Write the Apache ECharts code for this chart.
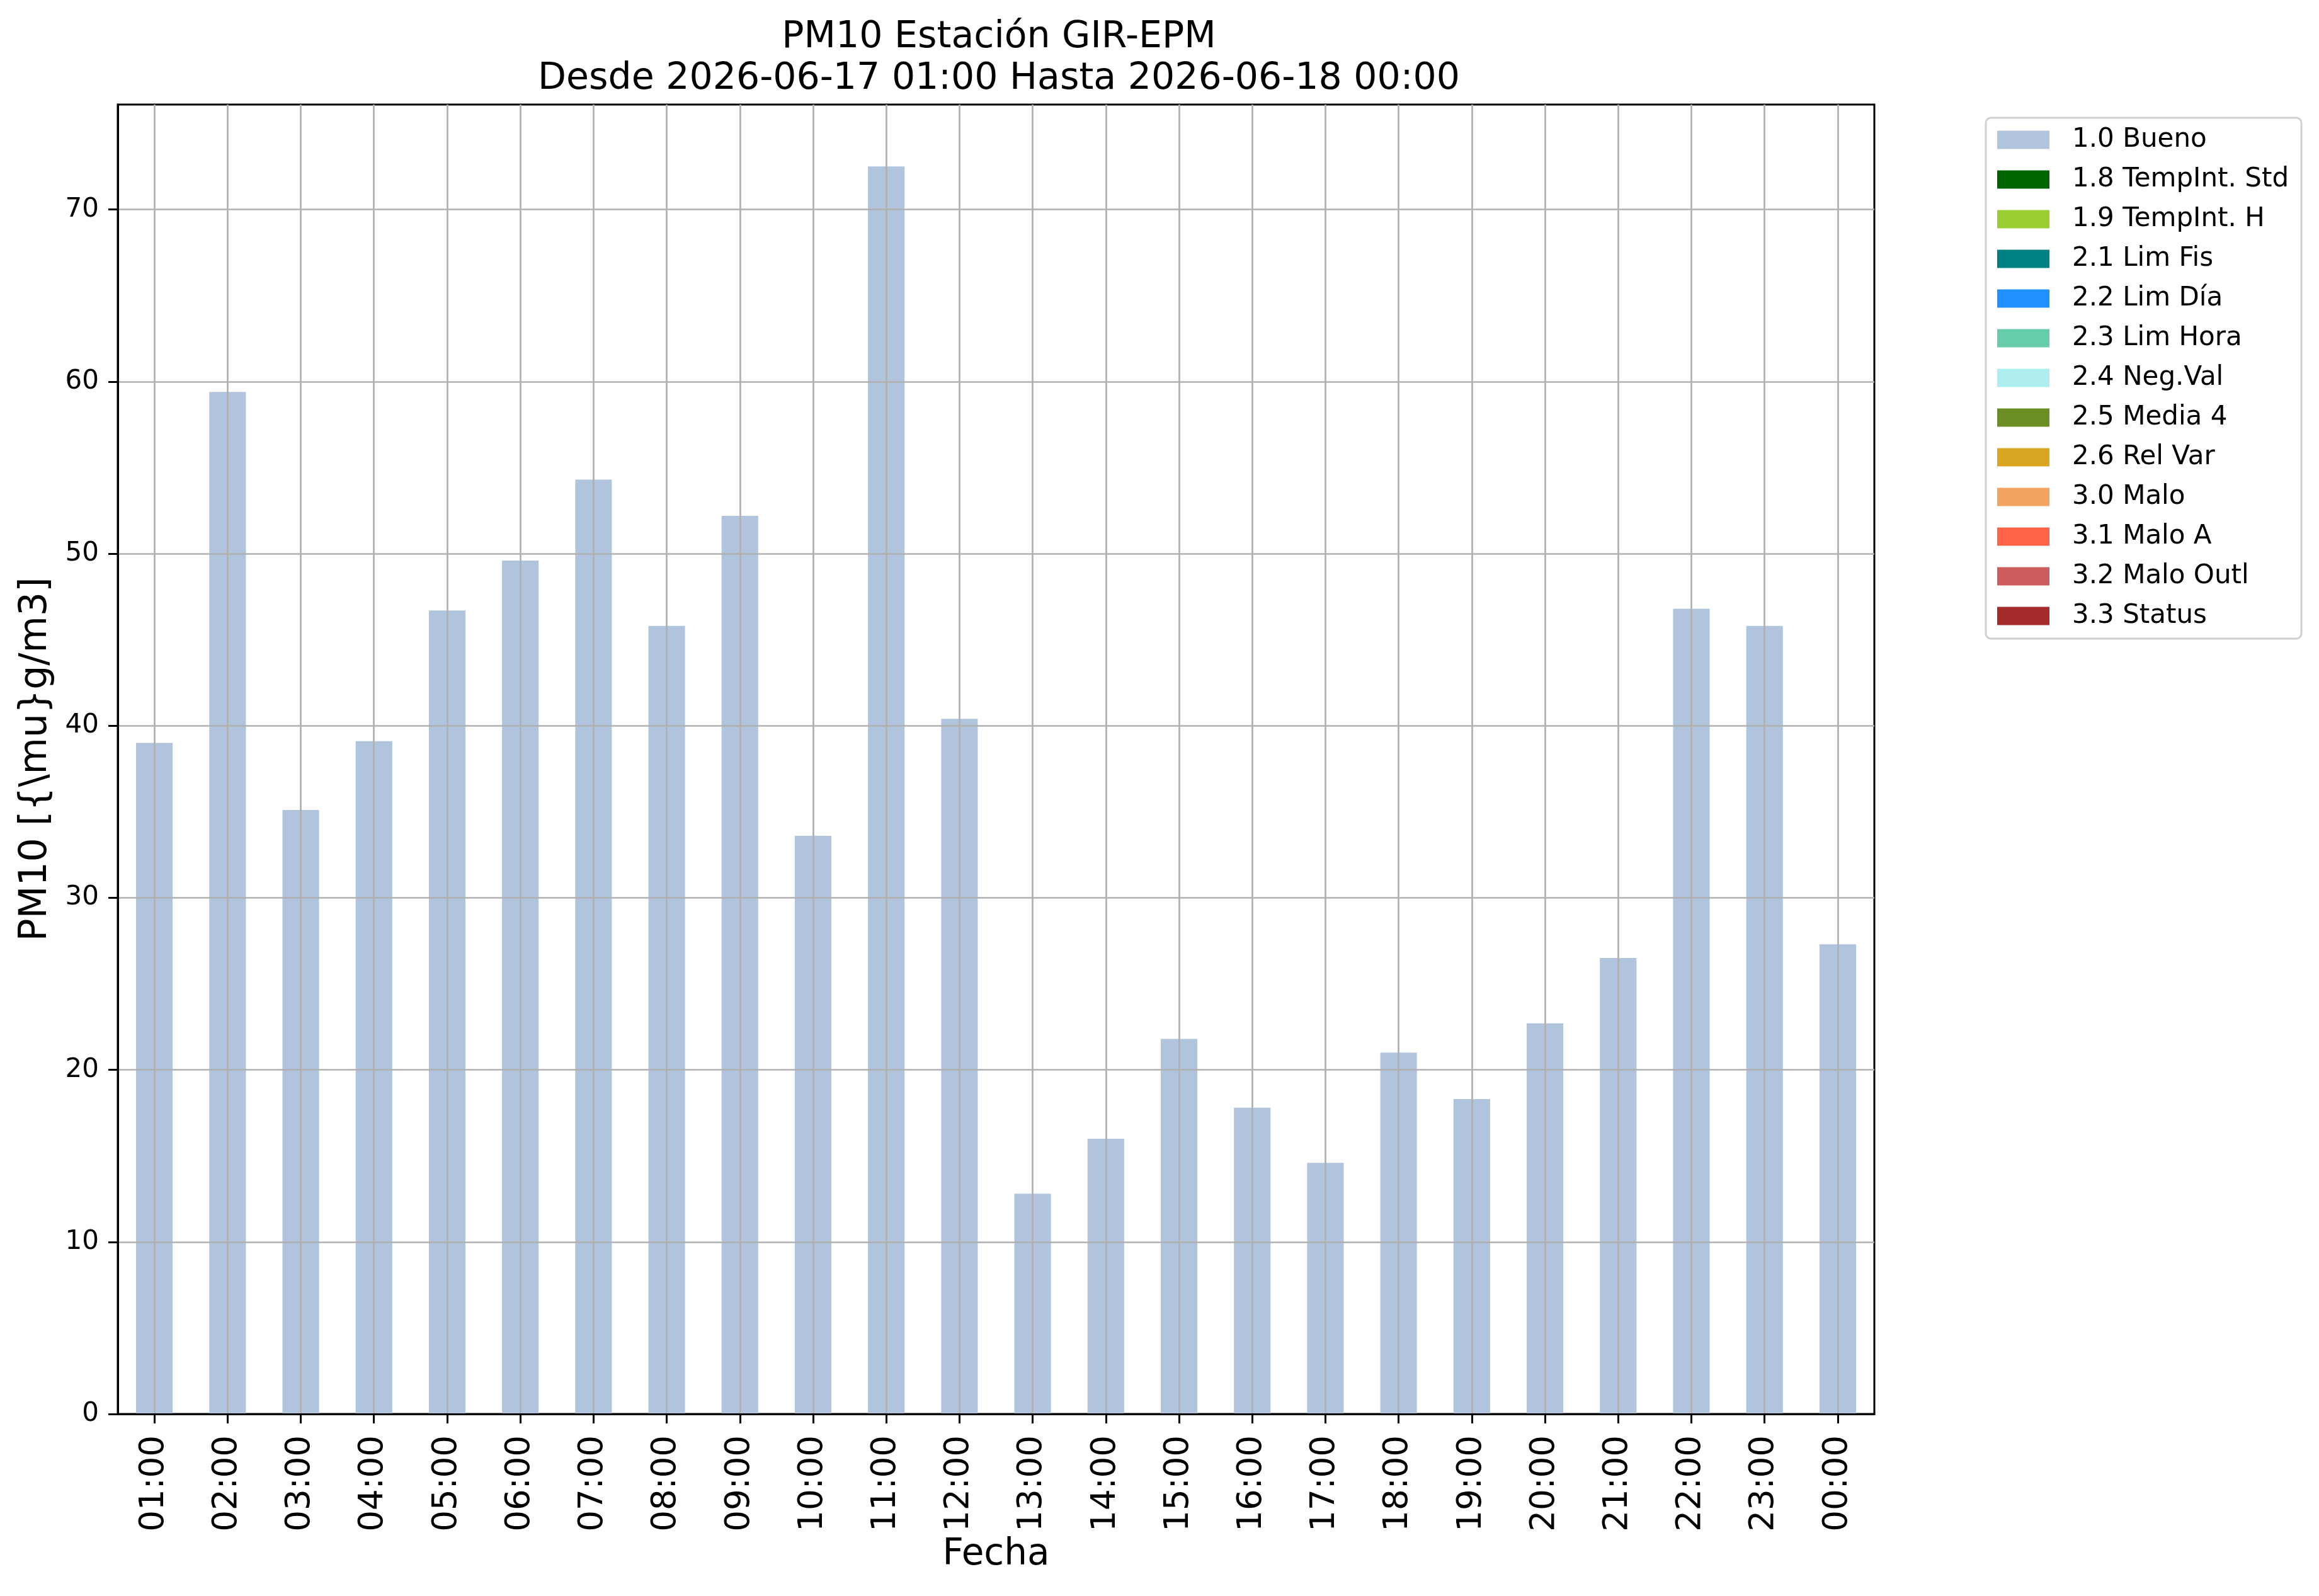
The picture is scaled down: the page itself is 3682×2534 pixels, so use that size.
<!DOCTYPE html>
<html>
<head>
<meta charset="utf-8">
<script src="https://cdn.jsdelivr.net/npm/echarts@6/dist/echarts.min.js"></script>
<style>html,body{margin:0;padding:0;background:#fff;}#c{width:3682px;height:2534px;}</style>
</head>
<body>
<div id="c"></div>
<script>
const categories = ["01:00","02:00","03:00","04:00","05:00","06:00","07:00","08:00","09:00","10:00","11:00","12:00","13:00","14:00","15:00","16:00","17:00","18:00","19:00","20:00","21:00","22:00","23:00","00:00"];
const buenoValues = [39.0,59.4,35.1,39.1,46.7,49.6,54.3,45.8,52.2,33.6,72.5,40.4,12.8,16.0,21.8,17.8,14.6,21.0,18.3,22.7,26.5,46.8,45.8,27.3];
const seriesNames = ["1.0 Bueno","1.8 TempInt. Std","1.9 TempInt. H","2.1 Lim Fis","2.2 Lim Día","2.3 Lim Hora","2.4 Neg.Val","2.5 Media 4","2.6 Rel Var","3.0 Malo","3.1 Malo A","3.2 Malo Outl","3.3 Status"];
const seriesColors = ["#b0c4de","#006400","#9acd32","#008080","#1e90ff","#66cdaa","#afeeee","#6b8e23","#daa520","#f4a460","#ff6347","#cd5c5c","#a52a2a"];
const yTicks = [0,10,20,30,40,50,60,70];
const yMax = 76.1;

const FONT = "DejaVu Sans";
const chart = echarts.init(document.getElementById('c'), null, {renderer:'canvas', devicePixelRatio:1});

const series = seriesNames.map((name, i) => ({
  name: name,
  type: 'bar',
  stack: 'total',
  barWidth: '50%',
  z: 1,
  itemStyle: {color: seriesColors[i]},
  data: i === 0 ? buenoValues : []
}));

chart.setOption({
  animation: false,
  backgroundColor: '#ffffff',
  textStyle: {fontFamily: FONT},
  title: {
    text: 'PM10 Estación GIR-EPM\nDesde 2026-06-17 01:00 Hasta 2026-06-18 00:00',
    left: 1581, top: 22, textAlign: 'center',
    textStyle: {fontFamily: FONT, fontSize: 58.5, fontWeight: 'normal', color: '#000', lineHeight: 66}
  },
  grid: {left: 187, top: 166, width: 2789, height: 2079, show: true, borderColor: '#000', borderWidth: 3, backgroundColor: 'transparent', containLabel: false},
  legend: {
    orient: 'vertical', left: 3153, top: 187,
    padding: [14, 20, 15, 18],
    itemWidth: 83, itemHeight: 29, itemGap: 21,
    icon: 'rect',
    backgroundColor: '#fff', borderColor: '#d0d0d0', borderWidth: 3, borderRadius: 8,
    textStyle: {fontFamily: FONT, fontSize: 42, color: '#000', lineHeight: 42, padding: [0,0,0,31], width: 340},
    selectedMode: false,
    data: seriesNames
  },
  xAxis: {
    type: 'category', data: categories, boundaryGap: true, z: 5,
    name: 'Fecha', nameLocation: 'middle', nameGap: 195,
    nameTextStyle: {fontFamily: FONT, fontSize: 58, color: '#000'},
    axisLine: {show: true, lineStyle: {color: '#000', width: 3}},
    axisTick: {show: true, alignWithLabel: true, length: 15, lineStyle: {color: '#000', width: 3}},
    axisLabel: {rotate: 90, interval: 0, fontFamily: FONT, fontSize: 53, color: '#000', margin: 34},
    splitLine: {show: true, alignWithLabel: true, interval: 0, lineStyle: {color: '#b0b0b0', width: 2.7}}
  },
  yAxis: {
    type: 'value', min: 0, max: yMax, interval: 10, z: 5,
    name: 'PM10 [{\\mu}g/m3]', nameLocation: 'middle', nameGap: 100, nameRotate: 90,
    nameTextStyle: {fontFamily: FONT, fontSize: 60, color: '#000'},
    axisLine: {show: true, lineStyle: {color: '#000', width: 3}},
    axisTick: {show: true, length: 15, lineStyle: {color: '#000', width: 3}, customValues: yTicks},
    axisLabel: {fontFamily: FONT, fontSize: 42, color: '#000', margin: 30, customValues: yTicks},
    splitLine: {show: true, lineStyle: {color: '#b0b0b0', width: 2.7}}
  },
  series: series
});
</script>
</body>
</html>
